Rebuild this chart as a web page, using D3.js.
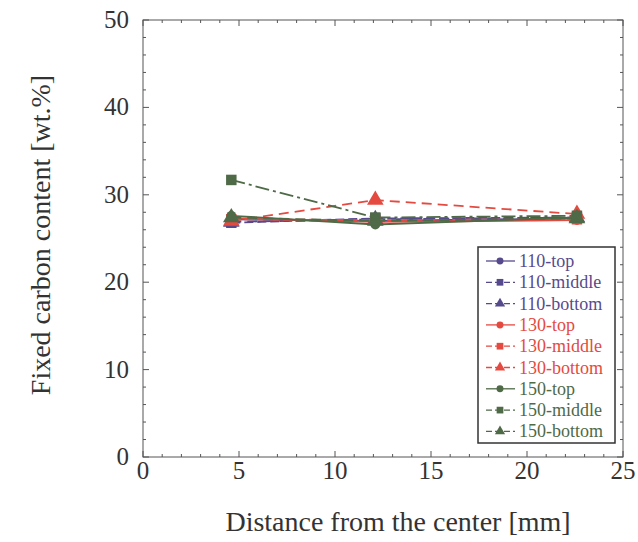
<!DOCTYPE html>
<html><head><meta charset="utf-8">
<script src="https://cdn.jsdelivr.net/npm/d3@7"></script>
<style>body{margin:0;background:#fff}svg{display:block}</style>
</head><body>
<script>
const distances = [4.6, 12.1, 22.6];
const seriesNames = ["110-top","110-middle","110-bottom","130-top","130-middle","130-bottom","150-top","150-middle","150-bottom"];
const v110top    = [27.2, 27.0, 27.3];
const v110middle = [26.8, 27.3, 27.4];
const v110bottom = [26.9, 27.2, 27.4];
const v130top    = [27.3, 26.9, 27.1];
const v130middle = [27.2, 27.1, 27.2];
const v130bottom = [27.0, 29.4, 27.8];
const v150top    = [27.6, 26.6, 27.4];
const v150middle = [31.7, 27.4, 27.6];
const v150bottom = [27.4, 27.0, 27.3];
const xTicks = [0, 5, 10, 15, 20, 25];
const yTicks = [0, 10, 20, 30, 40, 50];

const values = [v110top,v110middle,v110bottom,v130top,v130middle,v130bottom,v150top,v150middle,v150bottom];
const colors = {"110":"#574a8c","130":"#e54a40","150":"#4f6a47"};
const shapes = {top:d3.symbolCircle, middle:d3.symbolSquare, bottom:d3.symbolTriangle};
const dashes = {top:null, middle:"9,4", bottom:"10,6"};

const W=638,H=542;
const svg=d3.select("body").append("svg").attr("width",W).attr("height",H);
svg.append("rect").attr("width",W).attr("height",H).attr("fill","#fff");
const L=143,R=623,T=20,B=457;
const x=d3.scaleLinear().domain([0,25]).range([L,R]);
const y=d3.scaleLinear().domain([0,50]).range([B,T]);
const font="'Liberation Serif', 'DejaVu Serif', serif";
const axCol="#555";

svg.append("rect").attr("x",L).attr("y",T).attr("width",R-L).attr("height",B-T)
  .attr("fill","none").attr("stroke",axCol).attr("stroke-width",1);

const g=svg.append("g").attr("stroke",axCol).attr("stroke-width",1);
d3.range(0,25.01,1).forEach(v=>{
  const len = v%5===0?6:3;
  g.append("line").attr("x1",x(v)).attr("x2",x(v)).attr("y1",B).attr("y2",B-len);
  g.append("line").attr("x1",x(v)).attr("x2",x(v)).attr("y1",T).attr("y2",T+len);
});
d3.range(0,50.01,2).forEach(v=>{
  const len = v%10===0?6:3;
  g.append("line").attr("y1",y(v)).attr("y2",y(v)).attr("x1",L).attr("x2",L+len);
  g.append("line").attr("y1",y(v)).attr("y2",y(v)).attr("x1",R).attr("x2",R-len);
});

svg.selectAll(".xl").data(xTicks).enter().append("text")
  .attr("x",d=>x(d)).attr("y",B+22).attr("text-anchor","middle")
  .attr("font-family",font).attr("font-size",25).attr("fill","#333").text(d=>d);
svg.selectAll(".yl").data(yTicks).enter().append("text")
  .attr("x",L-14).attr("y",d=>y(d)+8).attr("text-anchor","end")
  .attr("font-family",font).attr("font-size",25).attr("fill","#333").text(d=>d);

svg.append("text").attr("x",398).attr("y",531).attr("text-anchor","middle")
  .attr("font-family",font).attr("font-size",28).attr("fill","#333").text("Distance from the center [mm]");
svg.append("text").attr("transform",`translate(50,235) rotate(-90)`).attr("text-anchor","middle")
  .attr("font-family",font).attr("font-size",28).attr("fill","#333").text("Fixed carbon content [wt.%]");

const line=d3.line().x((d,i)=>x(distances[i])).y(d=>y(d));
seriesNames.forEach((name,k)=>{
  const [grp,pos]=name.split("-");
  const c=colors[grp];
  let dash=dashes[pos];
  if(name==="150-middle") dash="14,4,3,4";
  svg.append("path").datum(values[k]).attr("d",line).attr("fill","none")
    .attr("stroke",c).attr("stroke-width",1.8).attr("stroke-dasharray",dash);
  const size = pos==="top"?75:(pos==="middle"?110:120);
  svg.selectAll(null).data(values[k]).enter().append("path")
    .attr("transform",(d,i)=>`translate(${x(distances[i])},${y(d)})`)
    .attr("d",d3.symbol().type(shapes[pos]).size(size)).attr("fill",c);
});

const lx=478, ly=247, lw=137, lh=196;
svg.append("rect").attr("x",lx).attr("y",ly).attr("width",lw).attr("height",lh)
  .attr("fill","#fff").attr("stroke","#333").attr("stroke-width",1.5);
seriesNames.forEach((name,k)=>{
  const [grp,pos]=name.split("-");
  const c=colors[grp];
  const yy=ly+14+k*21.3;
  svg.append("line").attr("x1",lx+8).attr("x2",lx+37).attr("y1",yy).attr("y2",yy)
    .attr("stroke",c).attr("stroke-width",1.3).attr("stroke-dasharray",pos==="top"?null:"6,3");
  svg.append("path").attr("transform",`translate(${lx+22},${yy})`)
    .attr("d",d3.symbol().type(shapes[pos]).size(pos==="top"?38:45)).attr("fill",c);
  svg.append("text").attr("x",lx+41).attr("y",yy+6).attr("font-family",font)
    .attr("font-size",18).attr("fill",c).text(name);
});
</script>
</body></html>
